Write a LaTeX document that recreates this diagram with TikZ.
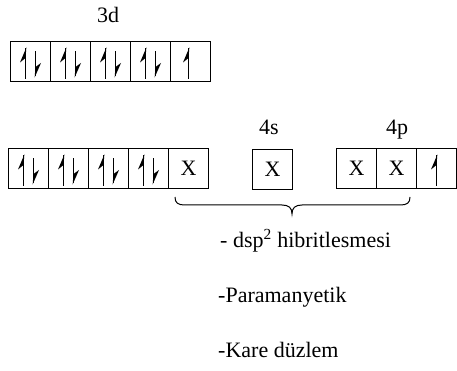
\documentclass[tikz,border=0pt]{standalone}
\usepackage{fontspec}
\setmainfont{Liberation Serif}
\begin{document}
\begin{tikzpicture}[x=1pt,y=-1pt,
  txt/.style={font=\fontsize{22}{26}\selectfont, inner sep=0pt},
  cell/.style={draw, line width=1pt, minimum width=40pt, minimum height=40pt,
    inner sep=0pt, anchor=north west, txt},
  upspin/.pic={
    \draw[line width=1.7pt] (0,-13) -- (0,18);
    \fill (0.85,-14) -- (-5.5,1) -- (0,-3.5) -- cycle;
  },
  downspin/.pic={
    \draw[line width=1.7pt] (0,-10) -- (0,15);
    \fill (-0.85,16) -- (5.5,1.5) -- (0,5.5) -- cycle;
  },
  pair/.pic={
    \pic at (-5,0) {upspin};
    \pic at (5,0) {downspin};
  }]
\useasboundingbox (0,0) rectangle (457,371);

% 3d, upper row
\node[txt, anchor=base] (l3d) at (108,23) {3d};
\foreach \i/\x in {1/10,2/50,3/90,4/130,5/170}
  \node[cell] (t\i) at (\x,41) {};
\foreach \i in {1,2,3,4}
  \pic at (t\i.center) {pair};
\pic at ([xshift=-2pt]t5.center) {upspin};

% lower row: 3d, 4s, 4p
\foreach \i/\x in {1/8,2/48,3/88,4/128}
  \node[cell] (b\i) at (\x,148) {};
\node[cell] (b5) at (168,148) {X};
\foreach \i in {1,2,3,4}
  \pic at (b\i.center) {pair};

\node[txt, anchor=base] (l4s) at (269,135) {4s};
\node[cell] (s1) at (252,149) {X};

\node[txt, anchor=base] (l4p) at (397,135) {4p};
\node[cell] (p1) at (336,148) {X};
\node[cell] (p2) at (376,148) {X};
\node[cell] (p3) at (416,148) {};
\pic at (p3.center) {upspin};

% brace under the hybrid orbitals
\coordinate (bl) at (175,197);
\coordinate (br) at (410,197);
\coordinate (bt) at (292,214);
\draw[line width=1pt] (bl) .. controls (175,203) and (178,205) .. (185,205)
  -- (282,205) .. controls (289,205) and (292,208) .. (bt)
  .. controls (292,208) and (295,205) .. (302,205)
  -- (400,205) .. controls (407,205) and (410,203) .. (br);

% properties
\node[txt, anchor=base west] (hyb) at (220,247) {- dsp\textsuperscript{2} hibritlesmesi};
\node[txt, anchor=base west] (para) at (218,302) {-Paramanyetik};
\node[txt, anchor=base west] (kare) at (218,357) {-Kare düzlem};
\end{tikzpicture}
\end{document}
